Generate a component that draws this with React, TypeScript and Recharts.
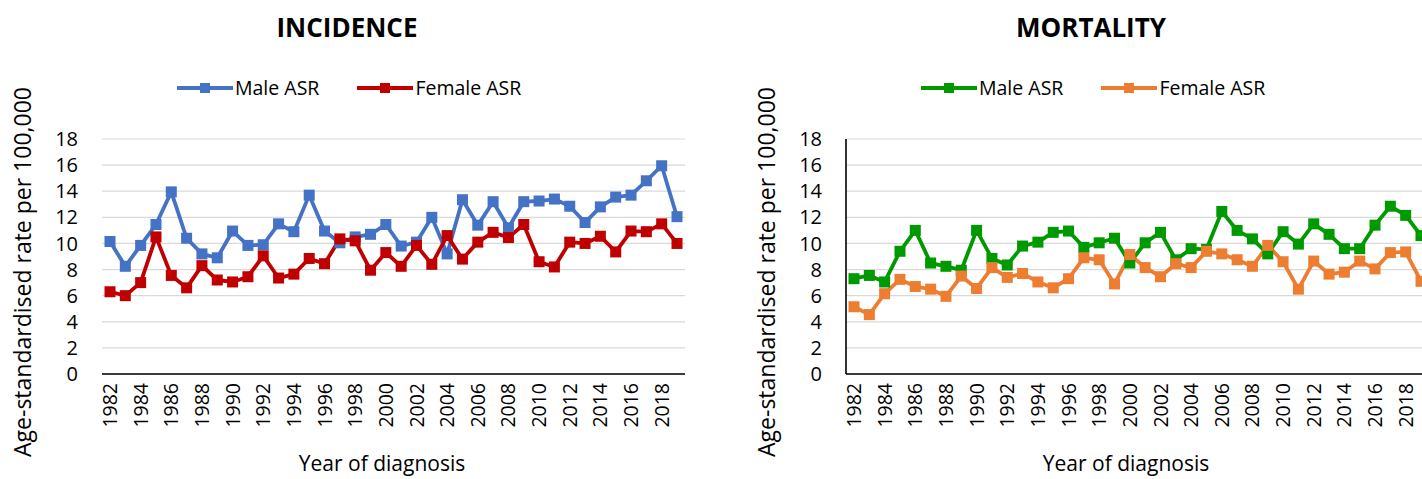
import React from "react";
import { LineChart, Line, XAxis, YAxis, CartesianGrid, Legend } from "recharts";

const FONT = "'Open Sans', sans-serif";

// Years of diagnosis (x categories)
const years = [
  "1982", "1983", "1984", "1985", "1986", "1987", "1988", "1989", "1990", "1991",
  "1992", "1993", "1994", "1995", "1996", "1997", "1998", "1999", "2000", "2001",
  "2002", "2003", "2004", "2005", "2006", "2007", "2008", "2009", "2010", "2011",
  "2012", "2013", "2014", "2015", "2016", "2017", "2018", "2019",
];

const yTicks = [0, 2, 4, 6, 8, 10, 12, 14, 16, 18];

// Incidence, age-standardised rate per 100,000
const incidenceMale = [
  10.15, 8.25, 9.85, 11.45, 13.95, 10.4, 9.2, 8.9, 10.95, 9.85,
  9.9, 11.5, 10.9, 13.7, 10.95, 10.05, 10.5, 10.7, 11.45, 9.8,
  10.1, 12.0, 9.2, 13.35, 11.4, 13.2, 11.2, 13.2, 13.25, 13.4,
  12.85, 11.6, 12.8, 13.55, 13.7, 14.8, 15.95, 12.05,
];
const incidenceFemale = [
  6.3, 6.0, 7.0, 10.5, 7.55, 6.6, 8.3, 7.2, 7.05, 7.45,
  9.05, 7.35, 7.65, 8.85, 8.45, 10.35, 10.2, 7.95, 9.3, 8.25,
  9.85, 8.4, 10.6, 8.8, 10.1, 10.85, 10.45, 11.45, 8.6, 8.2,
  10.1, 10.0, 10.55, 9.35, 10.95, 10.9, 11.5, 10.0,
];

// Mortality, age-standardised rate per 100,000
const mortalityMale = [
  7.3, 7.55, 7.05, 9.4, 11.0, 8.5, 8.25, 7.95, 11.0, 8.85,
  8.35, 9.8, 10.1, 10.85, 10.95, 9.7, 10.05, 10.4, 8.5, 10.05,
  10.85, 8.75, 9.6, 9.55, 12.45, 11.0, 10.35, 9.2, 10.9, 9.95,
  11.5, 10.7, 9.6, 9.6, 11.4, 12.85, 12.15, 10.6,
];
const mortalityFemale = [
  5.15, 4.55, 6.15, 7.25, 6.7, 6.5, 5.95, 7.5, 6.55, 8.15,
  7.4, 7.7, 7.05, 6.6, 7.3, 8.9, 8.75, 6.9, 9.15, 8.15,
  7.45, 8.45, 8.15, 9.4, 9.2, 8.75, 8.25, 9.85, 8.6, 6.5,
  8.65, 7.65, 7.8, 8.65, 8.05, 9.3, 9.35, 7.1,
];

const seriesOrder = ["male", "female"];

function YearTick(props: any) {
  const { x, y, payload } = props;
  return (
    <text
      x={x}
      y={y}
      transform={`rotate(-90 ${x} ${y})`}
      textAnchor="end"
      dy="0.36em"
      fontSize={19.5}
      fontFamily={FONT}
      fill="#000"
    >
      {payload.value}
    </text>
  );
}

function squareDot(color: string) {
  return (p: any) => {
    if (p.cx == null || p.cy == null) return <g key={`e-${p.index}`} />;
    return (
      <rect
        key={`d-${p.index}`}
        x={p.cx - 5.5}
        y={p.cy - 5.5}
        width={11}
        height={11}
        fill={color}
      />
    );
  };
}

function LegendBox(props: any) {
  const items = [...(props.payload || [])].sort(
    (a: any, b: any) => seriesOrder.indexOf(a.dataKey) - seriesOrder.indexOf(b.dataKey)
  );
  return (
    <div style={{ display: "flex", alignItems: "center", fontFamily: FONT, fontSize: 19.5, color: "#000", whiteSpace: "nowrap" }}>
      {items.map((it: any, i: number) => (
        <div key={it.value} style={{ display: "flex", alignItems: "center", marginLeft: i === 0 ? 0 : 38 }}>
          <svg width={56} height={12} style={{ marginRight: 2 }}>
            <line x1={0} y1={6} x2={56} y2={6} stroke={it.color} strokeWidth={4} />
            <rect x={23} y={1} width={10} height={10} fill={it.color} />
          </svg>
          <span>{it.value}</span>
        </div>
      ))}
    </div>
  );
}

function Panel(props: {
  title: string;
  male: number[];
  female: number[];
  maleColor: string;
  femaleColor: string;
  yAxisLine: boolean;
  left: number;
}) {
  const { title, male, female, maleColor, femaleColor, yAxisLine, left } = props;
  const data = years.map((year, i) => ({ year, male: male[i], female: female[i] }));

  return (
    <div style={{ position: "absolute", left, top: 0, width: 711, height: 479 }}>
      <div
        style={{
          position: "absolute",
          left: 0,
          top: 9,
          width: 694,
          textAlign: "center",
          fontFamily: FONT,
          fontWeight: 700,
          fontSize: 26,
          color: "#000",
          zIndex: 2,
        }}
      >
        {title}
      </div>
      <LineChart
        width={711}
        height={479}
        data={data}
        margin={{ top: 139, right: 26, bottom: 0, left: 0 }}
      >
        <CartesianGrid vertical={false} horizontal stroke="#d9d9d9" strokeWidth={1.2} />
        <XAxis
          dataKey="year"
          interval={1}
          height={105}
          padding={{ left: 8, right: 8 }}
          tickLine={false}
          tickSize={0}
          tickMargin={9}
          tick={<YearTick />}
          axisLine={{ stroke: "#000", strokeWidth: 1.6 }}
          label={() => (
            <text
              x={382}
              y={463}
              textAnchor="middle"
              dominantBaseline="central"
              fontSize={21}
              fontFamily={FONT}
              fill="#000"
            >
              Year of diagnosis
            </text>
          )}
        />
        <YAxis
          domain={[0, 18]}
          ticks={yTicks}
          interval={0}
          width={102}
          tickLine={false}
          tickSize={0}
          tickMargin={24}
          axisLine={yAxisLine ? { stroke: "#000", strokeWidth: 1.6 } : false}
          tick={{ fontSize: 20, fontFamily: FONT, fill: "#000" }}
          label={() => (
            <text
              x={22}
              y={272}
              transform="rotate(-90 22 272)"
              textAnchor="middle"
              dominantBaseline="central"
              fontSize={23}
              fontFamily={FONT}
              fill="#000"
            >
              Age-standardised rate per 100,000
            </text>
          )}
        />
        <Legend
          layout="vertical"
          align="center"
          verticalAlign="middle"
          wrapperStyle={{ top: 74, left: 177, width: 420 }}
          content={<LegendBox />}
        />
        <Line
          type="linear"
          dataKey="male"
          name="Male ASR"
          stroke={maleColor}
          strokeWidth={3.8}
          strokeLinejoin="round"
          dot={squareDot(maleColor)}
          activeDot={false}
          isAnimationActive={false}
        />
        <Line
          type="linear"
          dataKey="female"
          name="Female ASR"
          stroke={femaleColor}
          strokeWidth={3.8}
          strokeLinejoin="round"
          dot={squareDot(femaleColor)}
          activeDot={false}
          isAnimationActive={false}
        />
      </LineChart>
    </div>
  );
}

export default function App() {
  return (
    <div
      style={{
        position: "absolute",
        left: 0,
        top: 0,
        width: 1422,
        height: 479,
        overflow: "hidden",
        background: "#fff",
      }}
    >
      <Panel
        title="INCIDENCE"
        male={incidenceMale}
        female={incidenceFemale}
        maleColor="#4472C4"
        femaleColor="#C00000"
        yAxisLine={false}
        left={0}
      />
      <Panel
        title="MORTALITY"
        male={mortalityMale}
        female={mortalityFemale}
        maleColor="#009900"
        femaleColor="#ED7D31"
        yAxisLine={true}
        left={744}
      />
    </div>
  );
}
